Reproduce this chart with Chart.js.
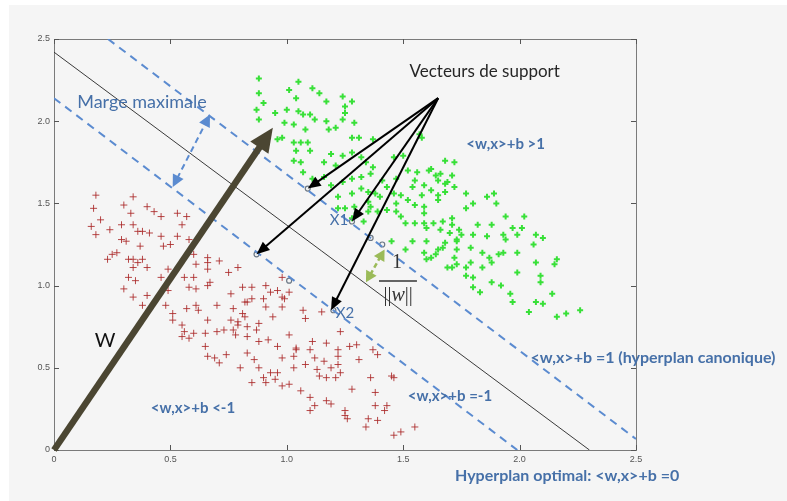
<!DOCTYPE html>
<html>
<head>
<meta charset="utf-8">
<script src="https://cdn.jsdelivr.net/npm/chart.js@4.4.0/dist/chart.umd.min.js"></script>
<style>
    html, body { margin: 0; padding: 0; background: #ffffff; }
    #wrap { width: 787px; height: 501px; }
</style>
</head>
<body>
<div id="wrap"><canvas id="svm" width="787" height="501"></canvas></div>
<script>
// class -1 (red crosses)
const redPoints = [
    [0.18,1.55],[0.34,1.54],[0.17,1.47],[0.30,1.49],[0.40,1.48],[0.43,1.45],[0.33,1.44],[0.46,1.42],[0.53,1.44],[0.57,1.42],
    [0.20,1.40],[0.16,1.36],[0.55,1.37],[0.24,1.34],[0.29,1.37],[0.34,1.37],[0.36,1.33],[0.38,1.33],[0.41,1.32],[0.18,1.31],
    [0.46,1.30],[0.53,1.30],[0.58,1.28],[0.29,1.28],[0.31,1.27],[0.37,1.24],[0.47,1.24],[0.50,1.25],[0.27,1.20],[0.25,1.19],
    [0.23,1.16],[0.32,1.16],[0.34,1.16],[0.38,1.16],[0.36,1.14],[0.60,1.19],[0.66,1.17],[0.66,1.14],[0.71,1.15],[0.61,1.13],
    [0.34,1.11],[0.40,1.11],[0.49,1.10],[0.66,1.10],[0.79,1.11],[0.75,1.08],[0.32,1.05],[0.35,1.03],[0.46,1.05],[0.56,1.05],
    [0.60,1.05],[0.30,0.98],[0.58,0.99],[0.66,1.00],[0.81,0.99],[0.85,0.99],[0.76,0.95],[0.34,0.93],[0.40,0.94],[0.49,0.97],
    [0.61,0.98],[0.82,0.90],[0.38,0.88],[0.48,0.88],[0.61,0.88],[0.70,0.88],[0.67,1.02],[0.91,1.00],[0.93,0.96],[0.96,0.97],
    [1.01,0.96],[0.90,0.92],[0.83,0.90],[0.99,0.92],[0.91,0.87],[0.98,0.87],[0.51,0.83],[0.57,0.86],[0.62,0.85],[0.77,0.86],
    [0.81,0.83],[0.51,0.79],[0.55,0.76],[0.66,0.79],[0.76,0.79],[0.79,0.78],[0.82,0.81],[0.88,0.77],[0.94,0.81],[0.56,0.72],
    [0.60,0.71],[0.65,0.71],[0.70,0.72],[0.73,0.73],[0.77,0.73],[0.79,0.76],[0.83,0.75],[0.87,0.73],[0.83,0.69],[0.78,0.70],
    [0.55,0.69],[0.58,0.68],[0.92,0.67],[0.96,0.63],[1.01,0.70],[0.65,0.63],[0.74,0.58],[0.83,0.59],[0.86,0.55],[0.66,0.57],
    [0.69,0.56],[0.71,0.53],[0.88,0.50],[0.93,0.47],[0.96,0.47],[0.80,0.50],[1.03,0.57],[1.03,0.50],[0.90,0.44],[0.91,0.41],
    [0.95,0.43],[0.98,0.39],[1.01,0.40],[0.85,0.41],[1.04,0.62],[0.98,1.05],[0.98,0.93],[0.85,0.92],[1.07,0.85],[1.15,0.84],
    [1.08,0.80],[1.23,0.72],[0.88,0.66],[1.11,0.66],[1.17,0.65],[1.04,0.61],[1.10,0.61],[1.22,0.61],[1.27,0.63],[1.30,0.64],
    [1.37,0.61],[1.39,0.58],[0.98,0.56],[1.12,0.56],[1.16,0.54],[1.22,0.57],[1.22,0.52],[1.31,0.55],[1.08,0.52],[1.13,0.49],
    [1.19,0.50],[1.23,0.47],[1.06,0.36],[1.14,0.45],[1.17,0.44],[1.21,0.44],[1.36,0.44],[1.45,0.45],[1.46,0.44],[1.28,0.37],
    [1.38,0.35],[1.10,0.32],[1.12,0.27],[1.10,0.24],[1.17,0.30],[1.19,0.28],[1.38,0.27],[1.43,0.27],[1.42,0.24],[1.25,0.24],
    [1.25,0.21],[1.26,0.19],[1.35,0.19],[1.39,0.18],[1.34,0.14],[1.46,0.09],[1.49,0.11],[1.55,0.14]
];

// class +1 (green crosses)
const greenPoints = [
    [0.88,2.26],[0.88,2.17],[1.05,2.24],[1.01,2.19],[1.11,2.20],[1.14,2.17],[0.90,2.11],[1.04,2.14],[1.17,2.12],[1.24,2.15],
    [1.28,2.12],[0.87,2.07],[0.88,2.01],[0.95,2.05],[1.00,2.07],[1.05,2.06],[1.07,2.04],[1.10,2.04],[1.12,2.01],[1.25,2.09],
    [1.25,2.05],[1.24,2.01],[1.17,2.00],[1.29,1.99],[0.99,1.99],[1.03,1.98],[1.08,1.95],[1.18,1.95],[1.21,1.96],[0.98,1.90],
    [0.96,1.89],[1.03,1.87],[1.06,1.87],[1.09,1.87],[1.28,1.90],[1.31,1.90],[1.37,1.89],[1.04,1.82],[1.10,1.82],[1.19,1.80],
    [1.24,1.79],[1.28,1.81],[1.03,1.76],[1.06,1.75],[1.16,1.75],[1.21,1.73],[1.32,1.78],[1.34,1.75],[1.46,1.78],[1.50,1.79],
    [1.58,1.90],[1.52,1.70],[1.56,1.69],[1.55,1.64],[1.61,1.70],[1.47,1.65],[1.07,1.69],[1.11,1.65],[1.16,1.66],[1.19,1.61],
    [1.24,1.63],[1.28,1.65],[1.32,1.66],[1.36,1.68],[1.37,1.72],[1.41,1.64],[1.43,1.60],[1.22,1.54],[1.28,1.56],[1.35,1.57],
    [1.38,1.56],[1.46,1.56],[1.49,1.55],[1.54,1.60],[1.58,1.55],[1.47,1.50],[1.52,1.52],[1.55,1.49],[1.59,1.48],[1.29,1.48],
    [1.36,1.48],[1.25,1.47],[1.30,1.44],[1.43,1.46],[1.47,1.45],[1.49,1.42],[1.32,1.59],[1.35,1.51],[1.40,1.54],[1.59,1.61],
    [1.65,1.55],[1.68,1.62],[1.72,1.60],[1.77,1.56],[1.80,1.50],[1.77,1.47],[1.22,1.47],[1.35,1.45],[1.39,1.45],[1.33,1.39],
    [1.28,1.41],[1.51,1.38],[1.55,1.38],[1.59,1.38],[1.63,1.38],[1.67,1.39],[1.71,1.37],[1.74,1.34],[1.75,1.31],[1.70,1.32],
    [1.66,1.34],[1.60,1.35],[1.45,1.27],[1.51,1.22],[1.54,1.27],[1.60,1.27],[1.65,1.22],[1.59,1.20],[1.62,1.17],[1.64,1.19],
    [1.68,1.26],[1.73,1.27],[1.79,1.23],[1.72,1.17],[1.77,1.11],[1.80,1.05],[1.80,0.99],[1.69,1.11],[1.73,1.13],[1.79,1.14],
    [1.68,1.76],[1.72,1.75],[1.62,1.71],[1.64,1.67],[1.66,1.68],[1.71,1.67],[1.65,1.64],[1.69,1.63],[1.62,1.58],[1.68,1.57],
    [1.65,1.52],[1.86,1.54],[1.89,1.56],[1.90,1.50],[1.59,1.44],[1.71,1.41],[1.94,1.42],[2.02,1.42],[1.82,1.37],[1.88,1.37],
    [1.97,1.35],[2.01,1.35],[1.80,1.31],[1.86,1.30],[1.93,1.31],[1.99,1.31],[2.07,1.31],[2.10,1.29],[1.73,1.28],[1.94,1.28],
    [2.06,1.25],[1.67,1.23],[1.73,1.22],[1.84,1.20],[1.87,1.17],[1.91,1.19],[1.93,1.20],[1.99,1.20],[1.60,1.16],[2.16,1.16],
    [2.15,1.13],[2.07,1.14],[1.71,1.11],[1.77,1.06],[1.84,1.11],[1.88,1.14],[1.99,1.08],[2.09,1.06],[2.09,1.02],[1.92,1.00],
    [1.88,1.02],[1.83,0.96],[1.96,0.95],[1.97,0.90],[2.07,0.90],[2.10,0.89],[2.14,0.95],[2.04,0.84],[2.16,0.81],[2.20,0.83],
    [2.26,0.85],[1.57,1.92]
];

// support vectors (small circles)
const supportGreen = [[1.09,1.59],[1.28,1.39],[1.36,1.29],[1.41,1.25]];
const supportRed = [[0.87,1.19],[1.01,1.03],[1.20,0.85]];

// hyperplanes
const hyperplane = [[0, 2.42], [2.30, 0]];
const marginUpper = [[0.232, 2.5], [2.5, 0.067]];
const marginLower = [[0, 2.14], [1.99, 0]];

// arrows
const wVector = [[0, 0], [0.94, 1.96]];
const supportArrowFrom = [1.65, 2.14];
const supportArrowTo = [[1.09, 1.59], [1.28, 1.39], [0.87, 1.19], [1.19, 0.85]];
const marginArrow = [[0.51, 1.60], [0.67, 2.04]];
const unitArrow = [[1.34, 1.02], [1.42, 1.22]];

const axisTicks = [0, 0.5, 1, 1.5, 2, 2.5];

const BLUE = '#4670a8';
const DASH_BLUE = '#5b8bd0';

const annotations = [
    { text: 'Vecteurs de support', at: [1.85, 2.305], font: '17px Lato', color: '#262626' },
    { text: 'Marge maximale', at: [0.378, 2.117], font: '18px Lato', color: BLUE },
    { text: '<w,x>+b >1', at: [1.94, 1.86], font: 'bold 15px Lato', color: BLUE },
    { text: 'X1', at: [1.224, 1.399], font: '15px Lato', color: BLUE },
    { text: 'X2', at: [1.25, 0.833], font: '15px Lato', color: BLUE },
    { text: 'W', at: [0.219, 0.663], font: '20px Lato', color: '#111111' },
    { text: '<w,x>+b <-1', at: [0.597, 0.255], font: 'bold 15px Lato', color: BLUE },
    { text: '<w,x>+b =-1', at: [1.701, 0.328], font: 'bold 15px Lato', color: BLUE },
    { text: '<w,x>+b =1 (hyperplan canonique)', at: [2.573, 0.560], font: 'bold 16px Lato', color: BLUE },
    { text: 'Hyperplan optimal: <w,x>+b =0', at: [2.204, -0.158], font: 'bold 16px Lato', color: BLUE },
];

const toXY = pts => pts.map(p => ({ x: p[0], y: p[1] }));

function px(chart, p) {
    return [chart.scales.x.getPixelForValue(p[0]), chart.scales.y.getPixelForValue(p[1])];
}

function arrowHead(ctx, from, to, len, half, color) {
    const ang = Math.atan2(to[1] - from[1], to[0] - from[0]);
    const c = Math.cos(ang), s = Math.sin(ang);
    ctx.save();
    ctx.fillStyle = color;
    ctx.beginPath();
    ctx.moveTo(to[0], to[1]);
    ctx.lineTo(to[0] - len * c + half * s, to[1] - len * s - half * c);
    ctx.lineTo(to[0] - len * c - half * s, to[1] - len * s + half * c);
    ctx.closePath();
    ctx.fill();
    ctx.restore();
}

function arrow(ctx, a, b, opt) {
    const ang = Math.atan2(b[1] - a[1], b[0] - a[0]);
    const dx = Math.cos(ang), dy = Math.sin(ang);
    const cut = opt.len * 0.8;
    const e = [b[0] - dx * cut, b[1] - dy * cut];
    const s = opt.both ? [a[0] + dx * cut, a[1] + dy * cut] : a;
    ctx.save();
    ctx.strokeStyle = opt.color;
    ctx.lineWidth = opt.width;
    ctx.setLineDash(opt.dash || []);
    ctx.beginPath();
    ctx.moveTo(s[0], s[1]);
    ctx.lineTo(e[0], e[1]);
    ctx.stroke();
    ctx.restore();
    arrowHead(ctx, a, b, opt.len, opt.half, opt.color);
    if (opt.both) arrowHead(ctx, b, a, opt.len, opt.half, opt.color);
}

const frameAndBackground = {
    id: 'frameAndBackground',
    beforeDraw(chart) {
        const ctx = chart.ctx;
        ctx.save();
        ctx.fillStyle = '#ffffff';
        ctx.fillRect(0, 0, chart.width, chart.height);
        ctx.fillStyle = '#f5f5f5';
        ctx.fillRect(9, 5, chart.width - 9, chart.height - 5);
        ctx.restore();
    },
    beforeDatasetsDraw(chart) {
        const { ctx, chartArea: a, scales } = chart;
        ctx.save();
        ctx.strokeStyle = '#7a7a7a';
        ctx.lineWidth = 1;
        ctx.strokeRect(a.left + 0.5, a.top + 0.5, a.right - a.left, a.bottom - a.top);
        ctx.strokeStyle = '#555555';
        ctx.beginPath();
        axisTicks.forEach(v => {
            const x = Math.round(scales.x.getPixelForValue(v)) + 0.5;
            ctx.moveTo(x, a.bottom); ctx.lineTo(x, a.bottom - 5);
            ctx.moveTo(x, a.top); ctx.lineTo(x, a.top + 5);
            const y = Math.round(scales.y.getPixelForValue(v)) + 0.5;
            ctx.moveTo(a.left, y); ctx.lineTo(a.left + 5, y);
            ctx.moveTo(a.right, y); ctx.lineTo(a.right - 5, y);
        });
        ctx.stroke();
        ctx.restore();
    },
    afterDatasetsDraw(chart) {
        const ctx = chart.ctx;

        // W vector
        arrow(ctx, px(chart, wVector[0]), px(chart, wVector[1]),
            { color: '#4b4632', width: 6.5, len: 24, half: 11 });

        // support vector pointers
        const from = px(chart, supportArrowFrom);
        supportArrowTo.forEach(t => {
            arrow(ctx, from, px(chart, t), { color: '#000000', width: 2, len: 13, half: 5.5 });
        });

        // maximal margin
        arrow(ctx, px(chart, marginArrow[0]), px(chart, marginArrow[1]),
            { color: DASH_BLUE, width: 2, len: 12, half: 6, both: true, dash: [6, 4] });

        // 1/||w||
        arrow(ctx, px(chart, unitArrow[0]), px(chart, unitArrow[1]),
            { color: '#9bbb59', width: 2.5, len: 11, half: 6, both: true, dash: [5, 3] });

        ctx.save();
        ctx.textAlign = 'center';
        ctx.textBaseline = 'middle';
        annotations.forEach(n => {
            const p = px(chart, n.at);
            ctx.font = n.font;
            ctx.fillStyle = n.color;
            ctx.fillText(n.text, p[0], p[1]);
        });

        // fraction 1 / ||w||
        ctx.fillStyle = '#333333';
        ctx.font = '20px "Liberation Serif"';
        const one = px(chart, [1.473, 1.137]);
        ctx.fillText('1', one[0], one[1]);
        const b0 = px(chart, [1.396, 1.028]);
        const b1 = px(chart, [1.559, 1.028]);
        ctx.strokeStyle = '#333333';
        ctx.lineWidth = 1.3;
        ctx.beginPath();
        ctx.moveTo(b0[0], b0[1]); ctx.lineTo(b1[0], b1[1]);
        ctx.stroke();
        const nrm = px(chart, [1.478, 0.937]);
        ctx.font = '20px "Liberation Serif"';
        const bars = '||';
        const wb = ctx.measureText(bars).width;
        ctx.font = 'italic 20px "Liberation Serif"';
        const ww = ctx.measureText('w').width;
        let cx = nrm[0] - (2 * wb + ww) / 2;
        ctx.textAlign = 'left';
        ctx.font = '20px "Liberation Serif"';
        ctx.fillText(bars, cx, nrm[1]);
        cx += wb;
        ctx.font = 'italic 20px "Liberation Serif"';
        ctx.fillText('w', cx, nrm[1]);
        cx += ww;
        ctx.font = '20px "Liberation Serif"';
        ctx.fillText(bars, cx, nrm[1]);
        ctx.restore();
    }
};

const lineStyle = (pts, color, width, dash) => ({
    type: 'line',
    data: toXY(pts),
    showLine: true,
    borderColor: color,
    borderWidth: width,
    borderDash: dash,
    pointRadius: 0,
    fill: false,
    order: 1
});

new Chart(document.getElementById('svm'), {
    type: 'scatter',
    data: {
        datasets: [
            {
                data: toXY(redPoints),
                pointStyle: 'cross',
                pointRadius: 3.5,
                borderColor: 'rgba(170, 40, 40, 0.85)',
                borderWidth: 1,
                order: 3
            },
            {
                data: toXY(greenPoints),
                pointStyle: 'cross',
                pointRadius: 3,
                borderColor: '#38e038',
                borderWidth: 2,
                order: 3
            },
            {
                data: toXY(supportGreen.concat(supportRed)),
                pointStyle: 'circle',
                pointRadius: 2.5,
                borderColor: '#6b7785',
                backgroundColor: 'rgba(0,0,0,0)',
                borderWidth: 1.2,
                order: 2
            },
            lineStyle(hyperplane, '#3a3a3a', 1, []),
            lineStyle(marginUpper, DASH_BLUE, 2, [8, 6]),
            lineStyle(marginLower, DASH_BLUE, 2, [8, 6])
        ]
    },
    options: {
        responsive: false,
        animation: false,
        layout: { padding: { left: 14, right: 151, top: 39, bottom: 35 } },
        plugins: { legend: { display: false }, tooltip: { enabled: false } },
        scales: {
            x: {
                type: 'linear', min: 0, max: 2.5,
                afterBuildTicks: s => { s.ticks = axisTicks.map(v => ({ value: v })); },
                afterFit: s => { s.height = 16; },
                grid: { display: false, drawTicks: false },
                border: { display: false },
                ticks: { padding: 4, color: '#555555', font: { family: 'Liberation Sans', size: 9 }, maxRotation: 0 }
            },
            y: {
                type: 'linear', min: 0, max: 2.5,
                afterBuildTicks: s => { s.ticks = axisTicks.map(v => ({ value: v })); },
                afterFit: s => { s.width = 40; },
                grid: { display: false, drawTicks: false },
                border: { display: false },
                ticks: { padding: 4, color: '#555555', font: { family: 'Liberation Sans', size: 9 } }
            }
        }
    },
    plugins: [frameAndBackground]
});
</script>
</body>
</html>
